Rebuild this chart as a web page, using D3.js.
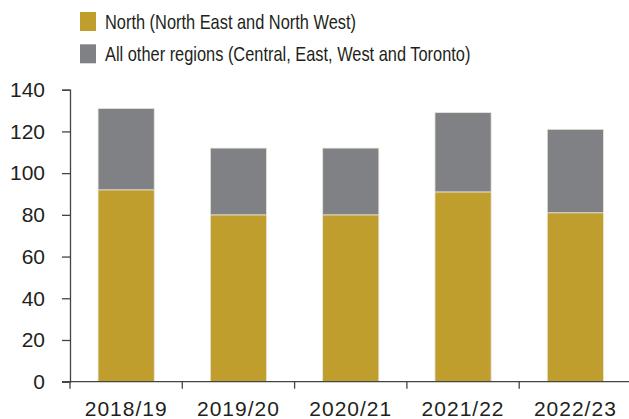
<!DOCTYPE html>
<html>
<head>
<meta charset="utf-8">
<script src="https://cdn.jsdelivr.net/npm/d3@7"></script>
<style>
  body { margin: 0; background: #fff; }
  svg { display: block; font-family: "Liberation Sans", Arial, sans-serif; }
</style>
</head>
<body>
<svg id="chart" width="629" height="419"></svg>
<script>
var years = ["2018/19", "2019/20", "2020/21", "2021/22", "2022/23"];
var north = [92, 80, 80, 91, 81];
var others = [39, 32, 32, 38, 40];
var yTicks = [0, 20, 40, 60, 80, 100, 120, 140];
var seriesNames = ["North (North East and North West)", "All other regions (Central, East, West and Toronto)"];
var colors = ["#BF9E2E", "#808184"];

var svg = d3.select("#chart"),
    margin = {top: 89.7, right: 0, bottom: 37.3, left: 70},
    width = 631.5 - margin.left,
    height = 419 - margin.top - margin.bottom;

var g = svg.append("g")
    .attr("transform", "translate(" + margin.left + "," + margin.top + ")");

var x = d3.scaleBand().domain(years).range([0, width]).paddingInner(0.5).paddingOuter(0.25);
var xTick = d3.scaleBand().domain(years).range([0, width]);
var y = d3.scaleLinear().domain([0, 140]).range([height, 0]);

var rows = years.map(function (yr, i) {
  return {year: yr, north: north[i], others: others[i]};
});
var stacked = d3.stack().keys(["north", "others"])(rows);

// bars
g.selectAll(".layer")
  .data(stacked)
  .enter().append("g")
  .attr("class", "layer")
  .attr("fill", function (d, i) { return colors[i]; })
  .selectAll("rect")
  .data(function (d) { return d; })
  .enter().append("rect")
  .attr("x", function (d) { return x(d.data.year); })
  .attr("y", function (d) { return y(d[1]); })
  .attr("width", x.bandwidth())
  .attr("height", function (d) { return y(d[0]) - y(d[1]); })
  .attr("stroke", "#e8e4d8")
  .attr("stroke-width", 0.8);

// y axis
var yAxis = g.append("g")
  .call(d3.axisLeft(y).tickValues(yTicks).tickSize(8).tickPadding(17));
yAxis.select(".domain").attr("stroke", "#444").attr("stroke-width", 1.3);
yAxis.selectAll(".tick line").attr("stroke", "#444").attr("stroke-width", 1.3);
yAxis.selectAll(".tick text").attr("font-size", "21px").attr("fill", "#231F20");

// x axis
var xAxis = g.append("g")
  .attr("transform", "translate(0," + height + ")")
  .call(d3.axisBottom(xTick).tickSize(0).tickPadding(19.4));
xAxis.select(".domain").attr("d", "M-8,0H" + width).attr("stroke", "#444").attr("stroke-width", 1.3);
xAxis.selectAll(".tick text")
  .attr("font-size", "21px").attr("fill", "#231F20")
  .attr("dy", "0.71em").attr("letter-spacing", "1px");
xAxis.selectAll(".sep")
  .data(years)
  .enter().append("line")
  .attr("class", "sep")
  .attr("x1", function (d) { return xTick(d); })
  .attr("x2", function (d) { return xTick(d); })
  .attr("y1", 0).attr("y2", 7)
  .attr("stroke", "#444").attr("stroke-width", 1.3);

// legend
var legend = svg.append("g").attr("transform", "translate(80,12)");
var li = legend.selectAll(".li")
  .data(seriesNames)
  .enter().append("g")
  .attr("transform", function (d, i) { return "translate(0," + (i * 32.3) + ")"; });
li.append("rect")
  .attr("width", 16).attr("height", 19)
  .attr("fill", function (d, i) { return colors[i]; });
li.append("text")
  .attr("transform", "translate(25,16.9) scale(0.82,1)")
  .attr("font-size", "20px").attr("fill", "#231F20")
  .text(function (d) { return d; });
</script>
</body>
</html>
